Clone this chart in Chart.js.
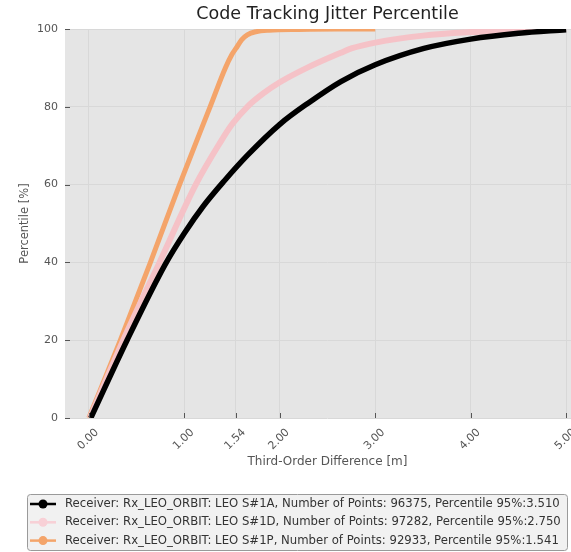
<!DOCTYPE html>
<html>
<head>
<meta charset="utf-8">
<script src="https://cdn.jsdelivr.net/npm/chart.js@4/dist/chart.umd.min.js"></script>
<style>
  html, body { margin: 0; padding: 0; background: #ffffff; overflow: hidden; }
  #wrap { width: 571px; height: 552px; overflow: hidden; }
</style>
</head>
<body>
<div id="wrap"><canvas id="chart" width="652" height="552"></canvas></div>
<script>
// Third-order difference [m] and percentile [%] per receiver
const diffA = [0.02, 0.4, 0.8, 1.0, 1.2, 1.42, 1.66, 2.0, 2.3, 2.64, 3.0, 3.51, 4.0, 4.5, 5.0];
const pctA = [0, 20, 39.5, 47.5, 54.5, 61, 67.5, 75.5, 81, 86.5, 90.8, 95, 97.4, 98.9, 99.8];

const diffD = [0.01, 0.36, 0.74, 1.12, 1.38, 1.5, 1.66, 1.83, 2.0, 2.3, 2.64, 2.75, 3.0, 3.5, 4.0, 4.5, 5.0];
const pctD = [0, 20, 40, 60, 71, 75.5, 80, 83.5, 86.3, 90.2, 93.9, 95, 96.5, 98.3, 99.2, 99.7, 100];

const diffP = [0, 0.33, 0.645, 0.95, 1.27, 1.43, 1.5, 1.541, 1.6, 1.66, 1.75, 1.89, 2.2, 2.6, 3.0];
const pctP = [0, 20, 40, 60, 80, 90, 93.5, 95, 97.2, 98.5, 99.3, 99.7, 99.9, 100, 100];

const labels = [
    'Receiver: Rx_LEO_ORBIT: LEO S#1A, Number of Points: 96375, Percentile 95%:3.510',
    'Receiver: Rx_LEO_ORBIT: LEO S#1D, Number of Points: 97282, Percentile 95%:2.750',
    'Receiver: Rx_LEO_ORBIT: LEO S#1P, Number of Points: 92933, Percentile 95%:1.541'
];
const colors = ['#000000', '#f5c2c7', '#f4a46a'];
const legendColors = ['#000000', '#f8d0d6', '#f4a46a'];
const widths = [5.5, 6, 5];

const xTicks = [0, 1, 1.54, 2, 3, 4, 5];
const yTicks = [0, 20, 40, 60, 80, 100];

const titleText = 'Code Tracking Jitter Percentile';
const FONT = "'DejaVu Sans', sans-serif";

function toPoints(xs, ys) {
    let pts = [];
    for (let i = 0; i < xs.length; i++) {
        pts.push({x: xs[i], y: ys[i]});
    }
    return pts;
}

function makeDataset(i, xs, ys) {
    return {
        label: labels[i],
        data: toPoints(xs, ys),
        borderColor: colors[i],
        backgroundColor: colors[i],
        borderWidth: widths[i],
        pointRadius: 0,
        cubicInterpolationMode: 'monotone',
        fill: false
    };
}

const bgPlugin = {
    id: 'plotBg',
    beforeDraw(chart) {
        let ctx = chart.ctx;
        let a = chart.chartArea;
        ctx.save();
        ctx.fillStyle = '#e5e5e5';
        ctx.fillRect(a.left, a.top, a.right - a.left, a.bottom - a.top);
        ctx.restore();
    }
};

// title centred over the plot area, like the original figure
const plotTitle = {
    id: 'plotTitle',
    afterDraw(chart) {
        let ctx = chart.ctx;
        let a = chart.chartArea;
        ctx.save();
        ctx.font = '17.5px ' + FONT;
        ctx.fillStyle = '#222222';
        ctx.textAlign = 'center';
        ctx.textBaseline = 'middle';
        ctx.fillText(titleText, (a.left + a.right) / 2, 14);
        ctx.restore();
    }
};

const tickMarks = {
    id: 'tickMarks',
    afterDatasetsDraw(chart) {
        let ctx = chart.ctx;
        let a = chart.chartArea;
        ctx.save();
        ctx.strokeStyle = '#555555';
        ctx.lineWidth = 1;
        ctx.beginPath();
        for (let v of xTicks) {
            let px = Math.round(chart.scales.x.getPixelForValue(v)) + 0.5;
            ctx.moveTo(px, a.bottom);
            ctx.lineTo(px, a.bottom - 5);
        }
        for (let v of yTicks) {
            let py = Math.round(chart.scales.y.getPixelForValue(v)) + 0.5;
            ctx.moveTo(a.left, py);
            ctx.lineTo(a.left + 5, py);
        }
        ctx.stroke();
        ctx.restore();
    }
};

const boxLegend = {
    id: 'boxLegend',
    afterDraw(chart) {
        let ctx = chart.ctx;
        let x = 27, y = 494, w = 540, h = 56;
        ctx.save();
        ctx.beginPath();
        ctx.roundRect(x + 0.5, y + 0.5, w, h, 3);
        ctx.fillStyle = 'rgba(240,240,240,0.9)';
        ctx.fill();
        ctx.strokeStyle = '#9a9a9a';
        ctx.lineWidth = 1;
        ctx.stroke();
        ctx.font = '11.7px ' + FONT;
        ctx.textBaseline = 'middle';
        for (let i = 0; i < labels.length; i++) {
            let ry = 504 + i * 18.3;
            ctx.strokeStyle = legendColors[i];
            ctx.fillStyle = legendColors[i];
            ctx.lineWidth = 2.5;
            ctx.beginPath();
            ctx.moveTo(30, ry);
            ctx.lineTo(56, ry);
            ctx.stroke();
            ctx.beginPath();
            ctx.arc(43, ry, 4.5, 0, Math.PI * 2);
            ctx.fill();
            ctx.fillStyle = '#333333';
            ctx.fillText(labels[i], 65, ry);
        }
        ctx.restore();
    }
};

let canvas = document.getElementById('chart');
let ctx = canvas.getContext('2d');
let chart = new Chart(ctx, {
    type: 'line',
    data: {
        datasets: [
            makeDataset(0, diffA, pctA),
            makeDataset(1, diffD, pctD),
            makeDataset(2, diffP, pctP)
        ]
    },
    options: {
        responsive: false,
        animation: false,
        devicePixelRatio: 1,
        layout: { padding: { left: 14, right: 62, top: 29, bottom: 80 } },
        plugins: {
            legend: { display: false },
            tooltip: { enabled: false },
            title: { display: false }
        },
        scales: {
            x: {
                type: 'linear',
                min: -0.25,
                max: 5.25,
                afterBuildTicks(scale) {
                    scale.ticks = xTicks.map(v => ({value: v}));
                },
                afterFit(scale) { scale.height = 54; },
                grid: { color: '#d8d8d8', drawTicks: false },
                border: { display: false },
                ticks: {
                    color: '#555555',
                    font: { family: FONT, size: 11 },
                    minRotation: 45,
                    maxRotation: 45,
                    padding: 8,
                    labelOffset: 8,
                    callback: v => Number(v).toFixed(2)
                },
                title: {
                    display: true,
                    text: 'Third-Order Difference [m]',
                    color: '#555555',
                    font: { family: FONT, size: 12 },
                    padding: { top: 2, bottom: 3 }
                }
            },
            y: {
                min: 0,
                max: 100,
                afterBuildTicks(scale) {
                    scale.ticks = yTicks.map(v => ({value: v}));
                },
                afterFit(scale) { scale.width = 51; },
                grid: { color: '#d8d8d8', drawTicks: false },
                border: { display: false },
                ticks: {
                    color: '#555555',
                    font: { family: FONT, size: 11 },
                    padding: 7
                },
                title: {
                    display: true,
                    text: 'Percentile [%]',
                    color: '#555555',
                    font: { family: FONT, size: 11.5 },
                    padding: { top: 4, bottom: 4 }
                }
            }
        }
    },
    plugins: [bgPlugin, tickMarks, boxLegend, plotTitle]
});
</script>
</body>
</html>
